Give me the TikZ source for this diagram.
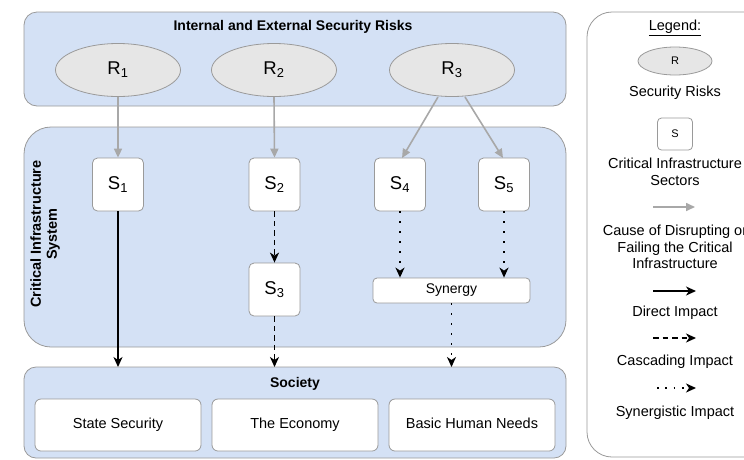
\documentclass[tikz,border=0pt]{standalone}
\usepackage{fontspec}
\setmainfont{Liberation Sans}
\usetikzlibrary{arrows.meta,shapes.geometric}
\definecolor{bluefill}{HTML}{D4E1F5}
\definecolor{edgegray}{HTML}{9A9A9A}
\definecolor{ellfill}{HTML}{E6E6E6}
\definecolor{causegray}{HTML}{A8A8A8}
\tikzset{
  container/.style={draw=edgegray, fill=bluefill, line width=0.8pt},
  risk/.style={ellipse, draw=edgegray, fill=ellfill, line width=0.8pt, minimum width=125pt, minimum height=53pt, inner sep=0pt, font=\fontsize{18.5}{20}\selectfont},
  sector/.style={rectangle, rounded corners=5pt, draw=edgegray, fill=white, line width=0.8pt, minimum width=51pt, minimum height=53pt, inner sep=0pt, font=\fontsize{18.5}{20}\selectfont},
  wide/.style={rectangle, rounded corners=6pt, draw=edgegray, fill=white, line width=0.8pt, minimum width=166pt, minimum height=52pt, inner sep=0pt, text height=10.5pt, text depth=3pt, font=\fontsize{14.5}{16}\selectfont},
  cause/.style={draw=causegray, line width=1.6pt, -{Triangle[length=9pt,width=8pt]}},
  direct/.style={draw=black, line width=1.7pt, -{Stealth[length=10pt,width=9pt,inset=3pt]}},
  cascade/.style={draw=black, line width=1.9pt, dash pattern=on 5.5pt off 4pt, -{Stealth[length=10pt,width=9pt,inset=3pt]}},
  synerg/.style={draw=black, line width=1.8pt, dash pattern=on 1.8pt off 8.2pt, -{Stealth[length=10pt,width=9pt,inset=3pt]}},
  title/.style={font=\bfseries\fontsize{14}{16}\selectfont},
  legtext/.style={font=\fontsize{14.5}{16.5}\selectfont, align=center},
}
\begin{document}
\begin{tikzpicture}[x=1pt,y=-1pt]
\useasboundingbox (0,0) rectangle (744,459);
\clip (0,0) rectangle (744,459);
% containers
\draw[container, rounded corners=13pt] (24,12) rectangle (566,106);
\draw[container, rounded corners=27pt] (24,127) rectangle (566,347);
\draw[container, rounded corners=12pt] (24,367) rectangle (566,458);
\node[title] (ttop) at (293,27) {Internal and External Security Risks};
\node[rotate=90, align=center, font=\bfseries\fontsize{14.5}{16}\selectfont] (tcis) at (45,234) {Critical Infrastructure\\System};
\node[title] (tsoc) at (295,384) {Society};
% risks
\node[risk] (r1) at (118,70) {R\textsubscript{1}};
\node[risk] (r2) at (274,70) {R\textsubscript{2}};
\node[risk] (r3) at (452,70) {R\textsubscript{3}};
% sectors
\node[sector] (s1) at (118,184.5) {S\textsubscript{1}};
\node[sector] (s2) at (274.5,184.5) {S\textsubscript{2}};
\node[sector] (s3) at (274.5,289.5) {S\textsubscript{3}};
\node[sector] (s4) at (400,184.5) {S\textsubscript{4}};
\node[sector] (s5) at (504,184.5) {S\textsubscript{5}};
\node[rectangle, rounded corners=4pt, draw=edgegray, fill=white, line width=0.8pt, minimum width=157pt, minimum height=25pt, inner sep=0pt, font=\fontsize{14}{16}\selectfont] (syn) at (451.5,290.5) {Synergy};
% society
\node[wide] (ss) at (118,425) {State Security};
\node[wide] (ec) at (295,425) {The Economy};
\node[wide] (bh) at (472,425) {Basic Human Needs};
% cause arrows
\draw[cause] (r1.south) -- (s1.north);
\draw[cause] (r2.south) -- (s2.north);
\coordinate (r3l) at (438,97);
\coordinate (r3r) at (465,97);
\coordinate (s4t) at (402,158);
\coordinate (s5t) at (503,158);
\draw[cause] (r3l) -- (s4t);
\draw[cause] (r3r) -- (s5t);
% impacts
\coordinate (soc1) at (118,367);
\coordinate (soc2) at (274.5,367);
\coordinate (soc3) at (451.5,367);
\draw[direct] (s1.south) -- (soc1);
\draw[cascade] (s2.south) -- (s3.north);
\draw[cascade] (s3.south) -- (soc2);
\draw[synerg] (s4.south) -- (s4.south |- syn.north);
\draw[synerg] (s5.south) -- (s5.south |- syn.north);
\draw[synerg] (syn.south) -- (soc3);
% legend
\draw[draw=edgegray, fill=white, line width=0.8pt, rounded corners=25pt] (587,12) rectangle (790,457);
\node[legtext] (lgt) at (675,28) {\underline{Legend:}};
\node[ellipse, draw=edgegray, fill=ellfill, line width=0.8pt, minimum width=74pt, minimum height=28pt, inner sep=0pt, font=\fontsize{11}{12}\selectfont] (lr) at (675,61) {R};
\node[legtext] (lrt) at (675,93) {Security Risks};
\node[rectangle, rounded corners=4pt, draw=edgegray, fill=white, line width=0.8pt, minimum width=35pt, minimum height=32pt, inner sep=0pt, font=\fontsize{11}{12}\selectfont] (ls) at (675,134) {S};
\node[legtext] (lst) at (675,172) {Critical Infrastructure\\Sectors};
\coordinate (la1) at (653,207);
\coordinate (lb1) at (695,207);
\draw[cause] (la1) -- (lb1);
\node[legtext] (lct) at (675,247) {Cause of Disrupting or\\Failing the Critical\\Infrastructure};
\coordinate (la2) at (653,291);
\coordinate (lb2) at (696,291);
\draw[direct] (la2) -- (lb2);
\node[legtext] (ldt) at (675,313) {Direct Impact};
\coordinate (la3) at (653,338);
\coordinate (lb3) at (696,338);
\draw[cascade] (la3) -- (lb3);
\node[legtext] (lcat) at (675,362) {Cascading Impact};
\coordinate (la4) at (657,388);
\coordinate (lb4) at (696,388);
\draw[synerg, dash pattern=on 1.8pt off 6.5pt] (la4) -- (lb4);
\node[legtext] (lsyt) at (675,413) {Synergistic Impact};
\end{tikzpicture}
\end{document}
